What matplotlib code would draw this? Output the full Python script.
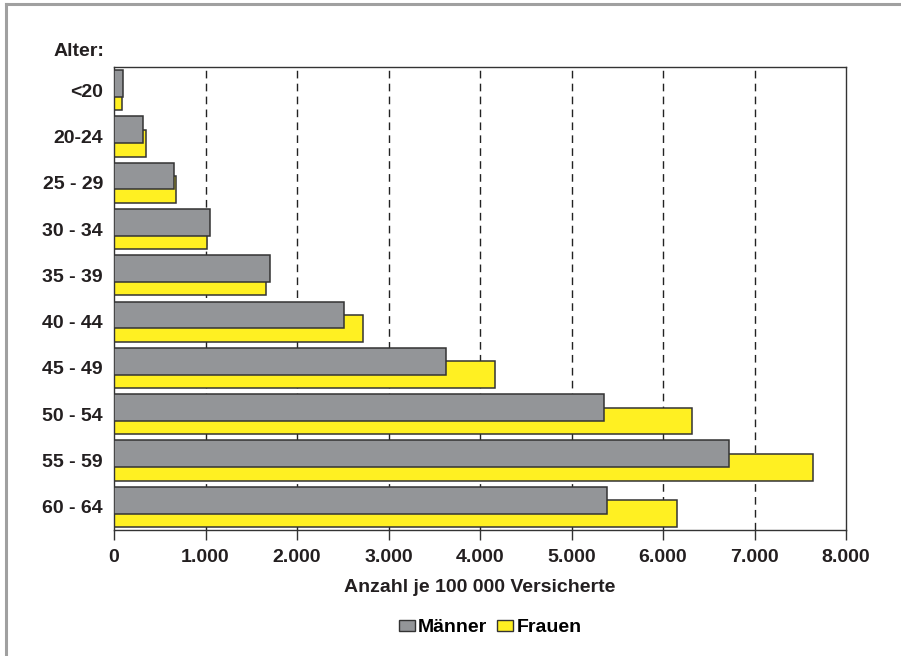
import matplotlib
matplotlib.use("Agg")
import matplotlib.pyplot as plt
from matplotlib.lines import Line2D
from matplotlib.patches import Patch
import numpy as np

# ---------------------------------------------------------------------------
# Data (Anzahl je 100 000 Versicherte)
# ---------------------------------------------------------------------------
age_groups = ["<20", "20-24", "25 - 29", "30 - 34", "35 - 39",
              "40 - 44", "45 - 49", "50 - 54", "55 - 59", "60 - 64"]
maenner = [100, 320, 655, 1050, 1705, 2515, 3630, 5355, 6720, 5390]
frauen = [85, 350, 680, 1015, 1660, 2720, 4165, 6315, 7640, 6150]
xticks = [0, 1000, 2000, 3000, 4000, 5000, 6000, 7000, 8000]
xtick_labels = ["0", "1.000", "2.000", "3.000", "4.000",
                "5.000", "6.000", "7.000", "8.000"]

GRAY = "#939598"
YELLOW = "#FFF022"
EDGE = "#333333"
TXT = "#231f20"
FS = 14

plt.rcParams["font.family"] = ["Liberation Sans", "DejaVu Sans"]
plt.rcParams["font.weight"] = "bold"

fig = plt.figure(figsize=(9.01, 6.56), dpi=100)
ax = fig.add_axes([114 / 901, 1 - 530 / 656, (846 - 114) / 901, (530 - 67) / 656])

y = np.arange(len(age_groups))
h = 0.58
off = 0.145
ax.barh(y + off, frauen, height=h, color=YELLOW, edgecolor=EDGE, linewidth=1.1, zorder=2)
ax.barh(y - off, maenner, height=h, color=GRAY, edgecolor=EDGE, linewidth=1.1, zorder=3)

for xv in xticks[1:-1]:
    ax.axvline(xv, color="#222222", linewidth=1.0, linestyle=(0, (5.5, 3.8)), zorder=1)

ax.set_xlim(0, 8000)
ax.set_ylim(len(age_groups) - 0.5, -0.5)
ax.set_xticks(xticks)
ax.set_xticklabels(xtick_labels, fontsize=FS, fontweight="bold", color=TXT)
ax.set_yticks(y)
ax.set_yticklabels(age_groups, fontsize=FS, fontweight="bold", color=TXT)
ax.tick_params(axis="y", length=0, pad=8)
ax.tick_params(axis="x", length=7, width=1, color="#333333", pad=7)
for s in ax.spines.values():
    s.set_color("#333333")
    s.set_linewidth(1.0)

ax.set_xlabel("Anzahl je 100 000 Versicherte", fontsize=FS,
              fontweight="bold", color=TXT, labelpad=9)

fig.text(104 / 901, 1 - 52 / 656, "Alter:", ha="right", va="center",
         fontsize=FS, fontweight="bold", color=TXT)

handles = [Patch(facecolor=GRAY, edgecolor=EDGE, linewidth=1.0, label="Männer"),
           Patch(facecolor=YELLOW, edgecolor=EDGE, linewidth=1.0, label="Frauen")]
fig.legend(handles=handles, loc="center", bbox_to_anchor=(490 / 901, 1 - 628 / 656),
           ncol=2, frameon=False, handlelength=0.85, handleheight=0.55,
           handletextpad=0.15, columnspacing=0.5, borderpad=0,
           prop={"weight": "bold", "size": FS})

# outer frame (top and left edges)
fig.add_artist(Line2D([6 / 901, 6 / 901], [0, 1 - 4 / 656], transform=fig.transFigure,
                      color="#a0a0a0", linewidth=2.2))
fig.add_artist(Line2D([6 / 901, 1], [1 - 4 / 656, 1 - 4 / 656], transform=fig.transFigure,
                      color="#a0a0a0", linewidth=2.2))

fig.savefig("out.png", dpi=100)
